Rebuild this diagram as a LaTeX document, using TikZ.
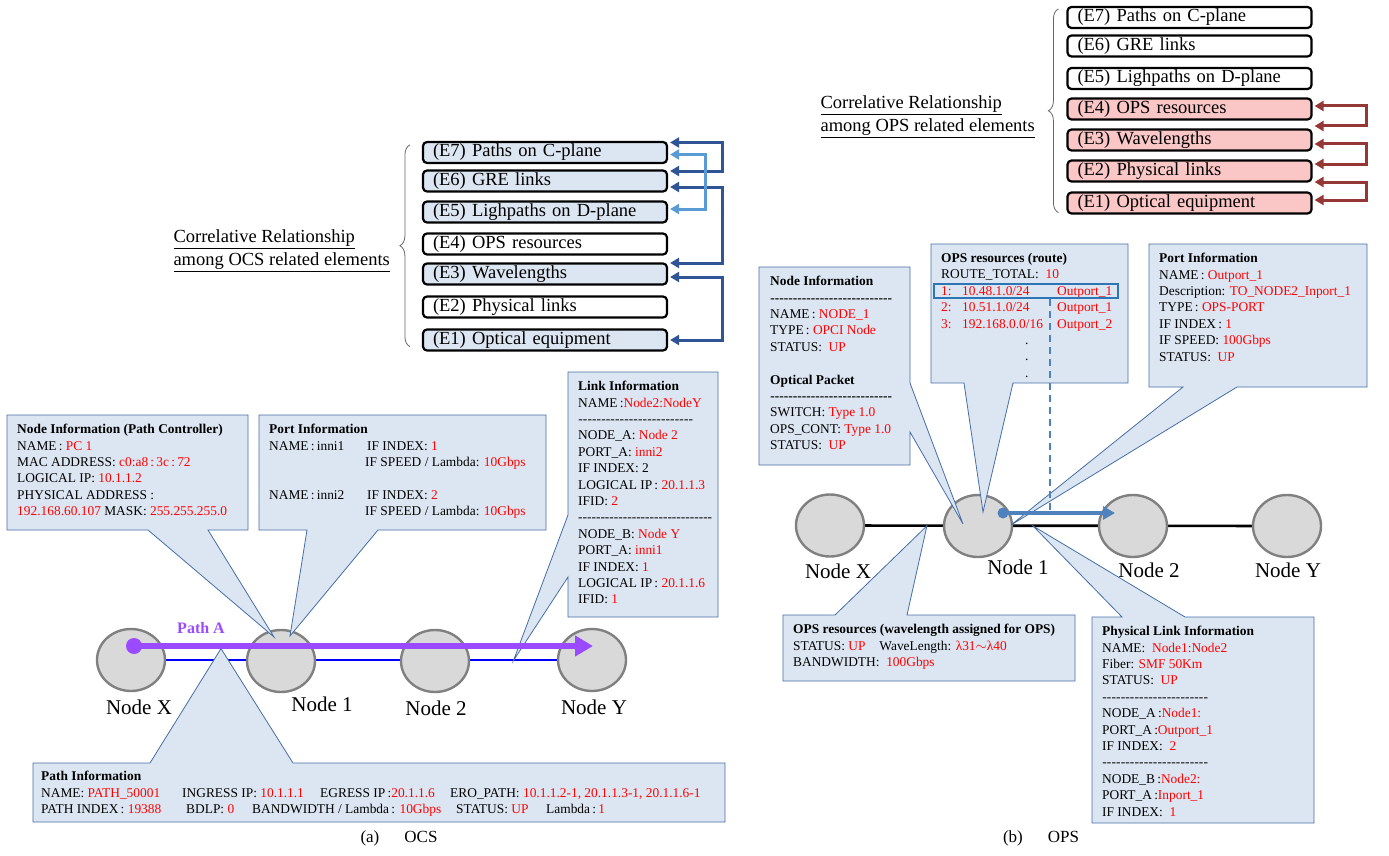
\documentclass[tikz,border=0pt]{standalone}
\usepackage{fontspec}
\setmainfont{Liberation Serif}
\usepackage{tikz}
\usetikzlibrary{arrows.meta}
\usetikzlibrary{backgrounds}
\usetikzlibrary{calc}
\usetikzlibrary{shapes.geometric}
\usetikzlibrary{decorations.pathreplacing}
\usetikzlibrary{positioning}

\definecolor{boxblue}{RGB}{220,230,242}
\definecolor{boxpink}{RGB}{250,198,198}
\definecolor{calloutline}{RGB}{70,110,165}
\definecolor{darkarrow}{RGB}{47,85,151}
\definecolor{lightarrow}{RGB}{91,155,213}
\definecolor{redarrow}{RGB}{149,55,53}
\definecolor{nodegray}{RGB}{217,217,217}
\definecolor{nodeedge}{RGB}{128,128,128}
\definecolor{pathpurple}{RGB}{155,75,255}
\definecolor{opsblue}{RGB}{79,129,189}
\definecolor{routeblue}{RGB}{46,117,182}

\newcommand{\rd}[1]{\textcolor{red}{#1}}
\newcommand{\dashline}[1]{\leavevmode\hbox to #1{\xleaders\hbox{-}\hfill}}

\begin{document}
\begin{tikzpicture}[x=1pt, y=-1pt,
    elem/.style={draw=black, line width=2.2pt, rounded corners=4pt,
                 minimum height=21pt, text width=224pt, inner xsep=10pt,
                 inner ysep=0pt, align=left, font=\fontsize{18.5}{22}\selectfont},
    info/.style={anchor=north west, inner sep=0pt, align=left,
                 font=\fontsize{13.4}{16.4}\selectfont},
    callout/.style={draw=calloutline, fill=boxblue, line width=0.8pt},
    netnode/.style={ellipse, draw=nodeedge, fill=nodegray, line width=2.4pt,
                    minimum width=68pt, minimum height=62pt},
    netlabel/.style={font=\fontsize{21}{24}\selectfont},
    corrlabel/.style={anchor=west, align=left, font=\fontsize{18.5}{23}\selectfont},
    caption/.style={font=\fontsize{17}{20}\selectfont},
    brace/.style={decorate, decoration={brace, amplitude=10pt},
                  draw=black!60, line width=0.8pt},
    darkarr/.style={draw=darkarrow, line width=3pt,
                    arrows={Triangle[length=9pt,width=10pt]-Triangle[length=9pt,width=10pt]}},
    lightarr/.style={draw=lightarrow, line width=3pt,
                    arrows={Triangle[length=9pt,width=10pt]-Triangle[length=9pt,width=10pt]}},
    redarr/.style={draw=redarrow, line width=3pt,
                    arrows={Triangle[length=9pt,width=10pt]-Triangle[length=9pt,width=10pt]}},
    patharr/.style={draw=pathpurple, line width=6pt, -{Triangle[length=18pt,width=20pt]}},
    opsarr/.style={draw=opsblue, line width=4pt, -{Triangle[length=12pt,width=13pt]}}]

\useasboundingbox (0,0) rectangle (1389,856);

% ---------- (a) OCS : correlated elements
\begin{scope}[every node/.style={elem, fill=boxblue}]
    \node (eA7) at (545,152.5) {(E7) Paths on C-plane};
    \node (eA6) at (545,181) {(E6) GRE links};
    \node (eA5) at (545,212) {(E5) Lighpaths on D-plane};
    \node[fill=white] (eA4) at (545,244) {(E4) OPS resources};
    \node (eA3) at (545,274) {(E3) Wavelengths};
    \node[fill=white] (eA2) at (545,307) {(E2) Physical links};
    \node (eA1) at (545,340) {(E1) Optical equipment};
\end{scope}

\draw[darkarr] ([shift={(2,-10)}]eA7.east) -- ++(52,0) |- ([shift={(2,-10)}]eA6.east);
\draw[darkarr] ([shift={(2,6)}]eA6.east) -- ++(52,0) |- ([shift={(2,-11)}]eA3.east);
\draw[darkarr] ([shift={(2,3)}]eA3.east) -- ++(52,0) |- ([shift={(2,0)}]eA1.east);
\draw[lightarr] ([shift={(2,2)}]eA7.east) -- ++(35,0) |- ([shift={(2,-3)}]eA5.east);

\draw[brace] ([shift={(-12,-5)}]eA1.south west) -- ([shift={(-12,4)}]eA7.north west);
\node[corrlabel] (relA) at (170,251)
    {\underline{Correlative Relationship}\\\underline{among OCS related elements}};

% ---------- (b) OPS : correlated elements
\begin{scope}[every node/.style={elem, fill=boxpink}]
    \node[fill=white] (eB7) at (1189.5,17.5) {(E7) Paths on C-plane};
    \node[fill=white] (eB6) at (1189.5,46) {(E6) GRE links};
    \node[fill=white] (eB5) at (1189.5,78.5) {(E5) Lighpaths on D-plane};
    \node (eB4) at (1189.5,109) {(E4) OPS resources};
    \node (eB3) at (1189.5,140) {(E3) Wavelengths};
    \node (eB2) at (1189.5,171) {(E2) Physical links};
    \node (eB1) at (1189.5,203) {(E1) Optical equipment};
\end{scope}

\draw[redarr] ([shift={(2,-3)}]eB4.east) -- ++(52,0) |- ([shift={(2,-14)}]eB3.east);
\draw[redarr] ([shift={(2,4)}]eB3.east) -- ++(52,0) |- ([shift={(2,-7)}]eB2.east);
\draw[redarr] ([shift={(2,11)}]eB2.east) -- ++(52,0) |- ([shift={(2,-3)}]eB1.east);

\draw[brace] ([shift={(-8,-2)}]eB1.south west) -- ([shift={(-8,3)}]eB7.north west);
\node[corrlabel] (relB) at (817,117)
    {\underline{Correlative Relationship}\\\underline{among OPS related elements}};

% ---------- network nodes
\node[netnode] (aX) at (131,660) {};
\node[netnode] (a1) at (281,661) {};
\node[netnode] (a2) at (435,661) {};
\node[netnode] (aY) at (592,660) {};
\node[netlabel] (aXl) at (139,707) {Node X};
\node[netlabel] (a1l) at (322,704) {Node 1};
\node[netlabel] (a2l) at (436,708) {Node 2};
\node[netlabel] (aYl) at (594,707) {Node Y};

\node[netnode] (bX) at (830,525.5) {};
\node[netnode] (b1) at (978,526) {};
\node[netnode] (b2) at (1133,526) {};
\node[netnode] (bY) at (1287,526) {};
\node[netlabel] (bXl) at (838,571) {Node X};
\node[netlabel] (b1l) at (1018,567) {Node 1};
\node[netlabel] (b2l) at (1149,570) {Node 2};
\node[netlabel] (bYl) at (1288,570) {Node Y};

\begin{scope}[on background layer]
    \draw[blue, line width=2.6pt] (aX) -- (aY);
    \draw[black, line width=2.6pt] (bX) -- (bY);
\end{scope}

% pointer tips
\coordinate (niTipA) at ([shift={(-7,-24)}]a1.center);
\coordinate (ptTipA) at ([shift={(9,-25)}]a1.center);
\coordinate (liTipA) at ($(a2)!0.5!(aY)$);
\coordinate (paTipA) at ($(aX)!0.6!(a1)+(0,-12)$);
\coordinate (niTipB) at ([shift={(-15,-2)}]b1.center);
\coordinate (rtTipB) at ([shift={(5,-14)}]b1.center);
\coordinate (ptTipB) at ([shift={(33,-1)}]b1.center);
\coordinate (wvTipB) at ($(bX)!0.655!(b1)$);
\coordinate (phTipB) at ($(b1)!0.355!(b2)$);

% ---------- callouts (a)
\draw[callout] (7,415) -- (248,415) -- (248,530) -- (208,530) -- (niTipA) -- (148,530) -- (7,530) -- cycle;
\node[info] (niA) at (17,424) {\textbf{Node Information (Path Controller)}\\
    NAME\,: \rd{PC 1}\\
    MAC ADDRESS: \rd{c0:a8\,:\,3c\,:\,72}\\
    LOGICAL IP: \rd{10.1.1.2}\\
    PHYSICAL ADDRESS :\\
    \rd{192.168.60.107} MASK: \rd{255.255.255.0}};

\draw[callout] (259,415) -- (546,415) -- (546,530) -- (378,530) -- (ptTipA) -- (307,530) -- (259,530) -- cycle;
\node[info] (ptA) at (269,424) {\textbf{Port Information}\\
    \makebox[98pt][l]{NAME\,:\,inni1}IF INDEX: \rd{1}\\
    \hspace*{96pt}IF SPEED / Lambda: \rd{10Gbps}\\[16.4pt]
    \makebox[98pt][l]{NAME\,:\,inni2}IF INDEX: \rd{2}\\
    \hspace*{96pt}IF SPEED / Lambda: \rd{10Gbps}};

\draw[callout] (568,372) -- (718,372) -- (718,617) -- (568,617) -- (568,577) -- (liTipA) -- (568,515) -- cycle;
\node[info] (liA) at (578,381) {\textbf{Link Information}\\
    NAME\,:\rd{Node2:NodeY}\\
    \dashline{115pt}\\
    NODE\_A: \rd{Node 2}\\
    PORT\_A: \rd{inni2}\\
    IF INDEX: 2\\
    LOGICAL IP\,: \rd{20.1.1.3}\\
    IFID:\ \rd{2}\\
    \dashline{134pt}\\
    NODE\_B: \rd{Node Y}\\
    PORT\_A: \rd{inni1}\\
    IF INDEX: \rd{1}\\
    LOGICAL IP\,: \rd{20.1.1.6}\\
    IFID:\ \rd{1}};

\draw[callout] (33,763) -- (150,763) -- (paTipA) -- (293,763) -- (725,763) -- (725,822) -- (33,822) -- cycle;
\node[info] (paA) at (41,771) {\textbf{Path Information}\\
    \makebox[141pt][l]{NAME: \rd{PATH\_50001}}\makebox[138pt][l]{INGRESS IP: \rd{10.1.1.1}}\makebox[130pt][l]{EGRESS IP\,:\rd{20.1.1.6}}ERO\_PATH: \rd{10.1.1.2-1, 20.1.1.3-1, 20.1.1.6-1}\\
    \makebox[145pt][l]{PATH INDEX\,: \rd{19388}}\makebox[66pt][l]{BDLP: \rd{0}}\makebox[204pt][l]{BANDWIDTH / Lambda\,: \rd{10Gbps}}\makebox[90pt][l]{STATUS: \rd{UP}}Lambda\,:\,\rd{1}};

% ---------- callouts (b)
\draw[callout] (759,267) -- (910,267) -- (910,383) -- (niTipB) -- (910,432) -- (910,465) -- (759,465) -- cycle;
\node[info] (niB) at (770,276) {\textbf{Node Information}\\
    \textbf{\dashline{122pt}}\\
    NAME\,: \rd{NODE\_1}\\
    TYPE\,: \rd{OPCI Node}\\
    STATUS:\ \ \rd{UP}\\[16.4pt]
    \textbf{Optical Packet}\\
    \textbf{\dashline{122pt}}\\
    SWITCH: \rd{Type 1.0}\\
    OPS\_CONT: \rd{Type 1.0}\\
    STATUS:\ \ \rd{UP}};

\draw[callout] (931,244) -- (1128,244) -- (1128,383) -- (1013,383) -- (rtTipB) -- (964,383) -- (931,383) -- cycle;
\node[info] (rtB) at (941,253) {\textbf{OPS resources (route)}\\
    ROUTE\_TOTAL:\ \ \rd{10}\\
    \rd{\makebox[21pt][l]{1:}\makebox[95pt][l]{10.48.1.0/24}Outport\_1}\\
    \rd{\makebox[21pt][l]{2:}\makebox[95pt][l]{10.51.1.0/24}Outport\_1}\\
    \rd{\makebox[21pt][l]{3:}\makebox[95pt][l]{192.168.0.0/16}Outport\_2}\\
    \hspace*{84pt}.\\
    \hspace*{84pt}.\\
    \hspace*{84pt}.};

\draw[callout] (1149,244) -- (1367,244) -- (1367,387) -- (1237,387) -- (ptTipB) -- (1183,387) -- (1149,387) -- cycle;
\node[info] (ptB) at (1159,253) {\textbf{Port Information}\\
    NAME\,: \rd{Outport\_1}\\
    Description: \rd{TO\_NODE2\_Inport\_1}\\
    TYPE\,: \rd{OPS-PORT}\\
    IF INDEX\,: \rd{1}\\
    IF SPEED: \rd{100Gbps}\\
    STATUS:\ \ \rd{UP}};

\draw[callout] (783,615) -- (835,615) -- (wvTipB) -- (907,615) -- (1075,615) -- (1075,681) -- (783,681) -- cycle;
\node[info] (wvB) at (793,624) {\textbf{OPS resources (wavelength assigned for OPS)}\\
    STATUS: \rd{UP}\hspace{14pt}WaveLength: \rd{λ31$\sim$λ40}\\
    BANDWIDTH:\ \ \rd{100Gbps}};

\draw[callout] (1092,617) -- (1122,617) -- (phTipB) -- (1185,617) -- (1314,617) -- (1314,823) -- (1092,823) -- cycle;
\node[info] (phB) at (1102,626) {\textbf{Physical Link Information}\\
    NAME:\ \ \rd{Node1:Node2}\\
    Fiber: \rd{SMF 50Km}\\
    STATUS:\ \ \rd{UP}\\
    \dashline{106pt}\\
    NODE\_A\,:\rd{Node1:}\\
    PORT\_A\,:\rd{Outport\_1}\\
    IF INDEX:\ \ \rd{2}\\
    \dashline{106pt}\\
    NODE\_B\,:\rd{Node2:}\\
    PORT\_A\,:\rd{Inport\_1}\\
    IF INDEX:\ \ \rd{1}};

% ---------- paths
\coordinate (pathStart) at ([shift={(3,-14)}]aX.center);
\coordinate (pathEnd) at ([shift={(1,-14)}]aY.center);
\draw[patharr] (pathStart) -- (pathEnd);
\fill[pathpurple] (pathStart) circle[radius=8pt];
\node[font=\bfseries\fontsize{16}{18}\selectfont, text=pathpurple] (pathLbl) at (201,628) {Path A};

\node[draw=routeblue, line width=2.5pt, minimum width=184pt, minimum height=14pt, inner sep=0pt] (hl) at (1026,291) {};
\coordinate (opsStart) at ([shift={(25,-13)}]b1.center);
\coordinate (opsEnd) at ([shift={(-18,-13)}]b2.center);
\coordinate (dashEnd) at ($(opsStart)!0.42!(opsEnd)$);
\draw[opsblue, line width=1.5pt, dash pattern=on 7pt off 5pt] (hl.south -| dashEnd) -- (dashEnd);
\draw[opsarr] (opsStart) -- (opsEnd);
\fill[opsblue] (opsStart) circle[radius=5.5pt];

% ---------- captions
\node[caption] (capA) at (399,838) {(a)\hspace{25pt}OCS};
\node[caption] (capB) at (1041,838) {(b)\hspace{25pt}OPS};

\end{tikzpicture}
\end{document}
